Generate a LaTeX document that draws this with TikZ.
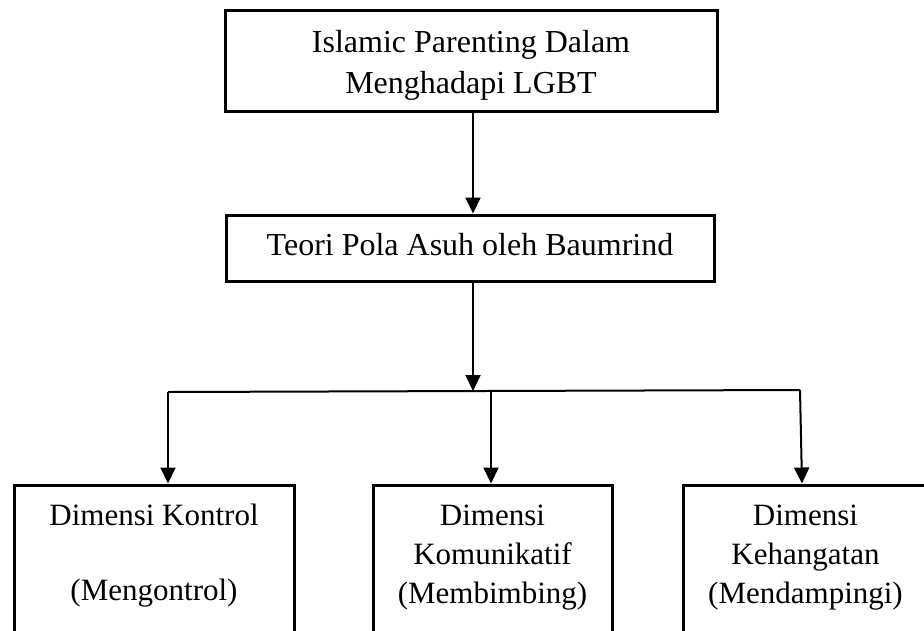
\documentclass[tikz,border=0pt]{standalone}
\usepackage{fontspec}
\setmainfont{Liberation Serif}
\usetikzlibrary{arrows.meta}
\tikzset{
  box/.style={draw, line width=3pt, inner sep=0pt, anchor=base, font=\fontsize{32}{41}\selectfont},
  bbox/.style={box, font=\fontsize{31}{39}\selectfont, text height=40pt, text depth=160pt},
  conn/.style={line width=2pt},
  arr/.style={conn, -{Triangle[width=15pt,length=16pt]}},
}
\begin{document}
\begin{tikzpicture}[x=1pt,y=-1pt]
\useasboundingbox (0,0) rectangle (924,630);
\fill[white] (0,0) rectangle (924,630);
\clip (0,0) rectangle (924,630);
\node[box, minimum width=492pt, text height=42pt, text depth=59pt] (top) at (471,52)
  {\begin{tabular}[t]{@{}c@{}}Islamic Parenting Dalam\\Menghadapi LGBT\end{tabular}};
\node[box, minimum width=488pt, text height=40pt, text depth=26pt] (mid) at (470,255)
  {\begin{tabular}[t]{@{}c@{}}Teori Pola Asuh oleh Baumrind\end{tabular}};
\node[bbox, minimum width=280pt] (lbox) at (154,525)
  {\begin{tabular}[t]{@{}c@{}}Dimensi Kontrol\\[36pt](Mengontrol)\end{tabular}};
\node[bbox, minimum width=239pt] (mbox) at (492.5,525)
  {\begin{tabular}[t]{@{}c@{}}Dimensi\\Komunikatif\\(Membimbing)\end{tabular}};
\node[bbox, minimum width=245pt] (rbox) at (805.5,525)
  {\begin{tabular}[t]{@{}c@{}}Dimensi\\Kehangatan\\(Mendampingi)\end{tabular}};
\coordinate (jL) at (168,392);
\coordinate (jR) at (800,390);
\coordinate (j0) at (473,391);
\coordinate (jM) at (491,390);
\draw[arr] ([xshift=2pt]top.south) -- ([xshift=3pt]mid.north);
\draw[arr] ([xshift=3pt]mid.south) -- (j0);
\draw[conn] (jL) -- (jR);
\draw[arr] (jL) -- (jL |- lbox.north);
\draw[arr] (jM) -- (jM |- mbox.north);
\draw[arr] (jR) -- ([xshift=-3.5pt]rbox.north);
\end{tikzpicture}
\end{document}
